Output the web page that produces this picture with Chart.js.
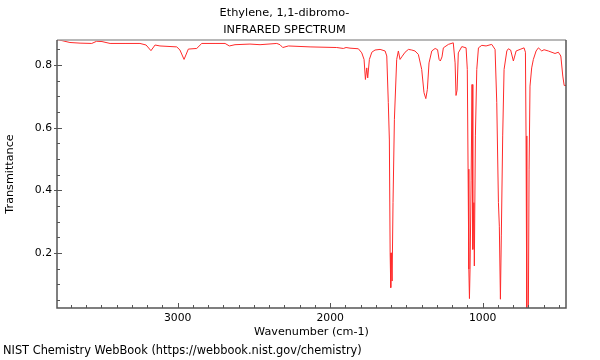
<!DOCTYPE html>
<html>
<head>
<meta charset="utf-8">
<script src="https://cdn.jsdelivr.net/npm/chart.js@4/dist/chart.umd.min.js"></script>
<style>
  html, body { margin: 0; padding: 0; background: #ffffff; }
  #wrap { width: 600px; height: 360px; }
</style>
</head>
<body>
<div id="wrap"><canvas id="c" width="600" height="360"></canvas></div>
<script>
// ---- Data ----
const chartTitle = ["Ethylene, 1,1-dibromo-", "INFRARED SPECTRUM"];
const xAxisTitle = "Wavenumber (cm-1)";
const yAxisTitle = "Transmittance";
const creditText = "NIST Chemistry WebBook (https://webbook.nist.gov/chemistry)";

const xTickLabels = [1000, 2000, 3000];
const yTickLabels = [0.2, 0.4, 0.6, 0.8];

const wavenumbers = [
  3791, 3782, 3758, 3706, 3640, 3563, 3531, 3496, 3443, 3345, 3247, 3207, 3175, 3148, 3116,
  3006, 2985, 2958, 2930, 2875, 2842, 2755, 2689, 2661, 2624, 2526, 2460, 2350, 2329, 2311,
  2274, 2132, 1957, 1914, 1896, 1870, 1815, 1793, 1778, 1769, 1760, 1754, 1743, 1727, 1706,
  1673, 1640, 1629, 1619, 1612, 1607, 1603, 1599, 1594, 1588, 1579, 1564, 1553, 1542, 1531,
  1509, 1487, 1465, 1444, 1422, 1400, 1385, 1373, 1363, 1352, 1334, 1312, 1296, 1286, 1278,
  1267, 1258, 1225, 1193, 1181, 1175, 1168, 1160, 1137, 1109, 1101, 1096, 1091, 1087, 1083,
  1076, 1070, 1065, 1058, 1055, 1048, 1039, 1028, 1006, 978, 941, 919, 908, 897, 891,
  884, 878, 869, 860, 842, 832, 817, 799, 781, 755, 729, 720, 716, 711, 701,
  696, 690, 679, 668, 650, 635, 613, 598, 570, 526, 504, 488, 475, 466, 449
];
const transmittance = [
  0.880, 0.880, 0.878, 0.872, 0.870, 0.869, 0.876, 0.875, 0.869, 0.869, 0.869, 0.864, 0.846, 0.864, 0.861,
  0.858, 0.848, 0.818, 0.851, 0.853, 0.869, 0.869, 0.869, 0.861, 0.865, 0.867, 0.865, 0.869, 0.865, 0.856,
  0.861, 0.858, 0.856, 0.853, 0.856, 0.854, 0.852, 0.839, 0.818, 0.754, 0.791, 0.759, 0.818, 0.841, 0.848,
  0.850, 0.845, 0.829, 0.680, 0.561, 0.201, 0.090, 0.201, 0.111, 0.361, 0.627, 0.818, 0.845, 0.818, 0.826,
  0.841, 0.850, 0.848, 0.845, 0.834, 0.786, 0.712, 0.693, 0.722, 0.807, 0.845, 0.853, 0.849, 0.818, 0.813,
  0.826, 0.855, 0.866, 0.871, 0.807, 0.703, 0.720, 0.839, 0.859, 0.855, 0.786, 0.468, 0.149, 0.055, 0.149,
  0.433, 0.738, 0.212, 0.361, 0.159, 0.574, 0.786, 0.855, 0.863, 0.861, 0.866, 0.850, 0.680, 0.361, 0.286,
  0.053, 0.255, 0.574, 0.786, 0.845, 0.852, 0.848, 0.813, 0.845, 0.850, 0.855, 0.841, 0.574, -0.010, -0.010,
  0.468, 0.733, 0.791, 0.818, 0.845, 0.855, 0.845, 0.849, 0.845, 0.837, 0.841, 0.829, 0.765, 0.735, 0.735
];

const xMin = 454, xMax = 3791;
const yMin = 0.025, yMax = 0.88;

// ---- Build chart ----
const points = wavenumbers.map((w, i) => ({ x: w, y: transmittance[i] }));
const FAMILY = "'DejaVu Sans', sans-serif";
const titleFont = { family: FAMILY, size: 11.3, weight: 'normal', lineHeight: 17 / 11.3 };
const tickFont = { family: FAMILY, size: 10.8, lineHeight: 1.2 };
const xTitleFont = { family: FAMILY, size: 11.2, lineHeight: 17 / 11.2 };
const yTitleFont = { family: FAMILY, size: 11.2, lineHeight: 14 / 11.2 };
const creditFont = { family: FAMILY, size: 11.4, weight: 'normal', lineHeight: 17 / 11.4 };
const axisColor = '#555555';

function near(v, step) { return Math.abs(v / step - Math.round(v / step)) < 1e-6; }

const frameAndTicks = {
  id: 'frameAndTicks',
  afterDatasetsDraw(chart) {
    const { ctx, chartArea: a, scales } = chart;
    ctx.save();
    ctx.strokeStyle = axisColor;
    ctx.lineWidth = 1;
    scales.x.ticks.forEach(t => {
      if (!near(t.value, 100)) return;
      const px = Math.round(scales.x.getPixelForValue(t.value)) + 0.5;
      const len = near(t.value, 1000) ? 5 : 3;
      ctx.beginPath(); ctx.moveTo(px, a.bottom); ctx.lineTo(px, a.bottom - len); ctx.stroke();
    });
    scales.y.ticks.forEach(t => {
      if (!near(t.value, 0.05)) return;
      const py = Math.round(scales.y.getPixelForValue(t.value)) + 0.5;
      const major = near(t.value, 0.2);
      ctx.beginPath();
      ctx.moveTo(a.left - (major ? 3 : 0), py);
      ctx.lineTo(a.left + (major ? 5 : 3), py);
      ctx.stroke();
    });
    ctx.lineWidth = 1.5;
    ctx.strokeStyle = '#a0a0a0';
    ctx.beginPath(); ctx.moveTo(a.left, a.top); ctx.lineTo(a.right, a.top); ctx.stroke();
    ctx.strokeStyle = axisColor;
    ctx.beginPath();
    ctx.moveTo(a.left, a.top); ctx.lineTo(a.left, a.bottom); ctx.lineTo(a.right, a.bottom); ctx.lineTo(a.right, a.top);
    ctx.stroke();
    ctx.restore();
  }
};

new Chart(document.getElementById('c'), {
  type: 'line',
  data: {
    datasets: [{
      data: points,
      borderColor: '#ff2a2a',
      borderWidth: 1,
      pointRadius: 0,
      tension: 0,
      fill: false
    }]
  },
  options: {
    responsive: false,
    animation: false,
    devicePixelRatio: 1,
    layout: { padding: { left: 3, right: 34, top: 0, bottom: 0 } },
    plugins: {
      legend: { display: false },
      tooltip: { enabled: false },
      title: {
        display: true,
        text: chartTitle,
        color: '#000000',
        font: titleFont,
        padding: { top: 4.5, bottom: 1.5 }
      },
      subtitle: {
        display: true,
        text: creditText,
        position: 'bottom',
        align: 'start',
        color: '#000000',
        font: creditFont,
        padding: { top: 0, bottom: 0 }
      }
    },
    scales: {
      x: {
        type: 'linear',
        reverse: true,
        min: xMin,
        max: xMax,
        afterFit(scale) { scale.height = 35; },
        grid: { display: false, drawTicks: false },
        border: { display: false },
        title: { display: true, text: xAxisTitle, color: '#000000', font: xTitleFont, padding: { top: 0, bottom: 2 } },
        ticks: {
          stepSize: 100,
          includeBounds: false,
          autoSkip: false,
          maxRotation: 0,
          color: '#000000',
          font: tickFont,
          padding: 4,
          callback: (v) => xTickLabels.some(l => Math.abs(l - v) < 1e-6) ? String(v) : ''
        }
      },
      y: {
        type: 'linear',
        min: yMin,
        max: yMax,
        afterFit(scale) { scale.width = 54; },
        grid: { display: false, drawTicks: false },
        border: { display: false },
        title: { display: true, text: yAxisTitle, color: '#000000', font: yTitleFont, padding: { top: 0, bottom: 0 } },
        ticks: {
          stepSize: 0.05,
          includeBounds: false,
          autoSkip: false,
          color: '#000000',
          font: tickFont,
          padding: 5,
          callback: (v) => yTickLabels.some(l => Math.abs(l - v) < 1e-6) ? v.toFixed(1) : ''
        }
      }
    }
  },
  plugins: [frameAndTicks]
});
</script>
</body>
</html>
